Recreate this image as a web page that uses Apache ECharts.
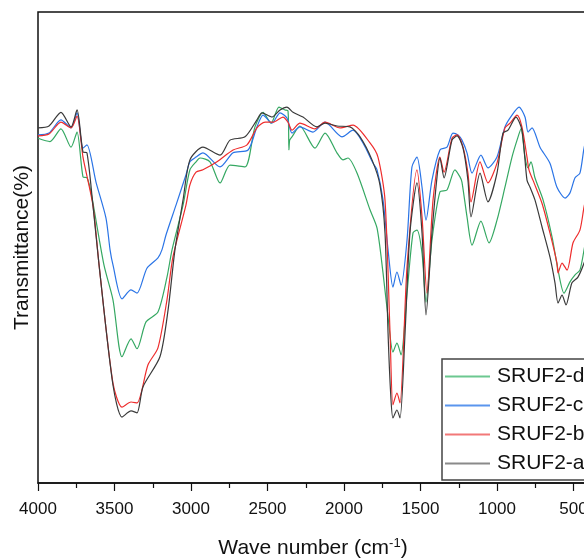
<!DOCTYPE html>
<html>
<head>
<meta charset="utf-8">
<script src="https://cdn.jsdelivr.net/npm/echarts@6/dist/echarts.min.js"></script>
<style>html,body{margin:0;padding:0;background:#fff;}#c{width:584px;height:559px;}</style>
</head>
<body>
<div id="c"></div>
<script>
// Wavenumbers (cm-1) and transmittance (arbitrary %)
const wnA = [4000,3928,3850,3784,3745,3706,3680,3641,3601,3510,3451,3392,3353,3314,3203,3150,3105,3052,3007,2922,2810,2745,2647,2569,2536,2471,2418,2373,2333,2268,2176,2124,2046,1961,1895,1817,1765,1732,1712,1695,1680,1654,1634,1601,1569,1523,1490,1464,1425,1392,1373,1346,1294,1261,1222,1190,1170,1111,1059,1000,961,928,876,837,804,784,752,706,654,621,601,575,549,510,471,431,400];
const tA  = [75.4,75.8,78.7,75.6,79.2,70.3,70.1,59.0,46.3,20.8,14.0,15.3,14.9,20.4,26.8,36.7,49.5,60.1,68.6,71.3,69.6,72.8,73.5,77.1,78.6,77.7,79.2,79.8,78.7,77.7,75.6,76.4,75.8,75.6,73.5,68.6,63.3,53.1,31.8,19.0,13.8,15.5,13.8,31.8,53.1,63.7,53.1,35.7,53.1,65.0,69.0,64.8,72.8,73.7,71.1,64.3,56.5,65.8,59.7,65.8,74.3,74.9,77.7,74.9,64.3,62.8,60.1,54.4,48.0,42.5,38.2,39.9,37.8,42.5,43.7,46.7,50.0];

const wnB = [4000,3928,3850,3784,3745,3706,3641,3601,3510,3451,3392,3353,3281,3216,3157,3118,3033,3007,2967,2922,2830,2725,2634,2569,2516,2464,2399,2366,2340,2288,2190,2124,2026,1941,1830,1778,1732,1699,1680,1654,1634,1588,1523,1490,1458,1418,1373,1346,1294,1261,1222,1190,1170,1111,1059,1000,948,915,869,837,804,791,765,706,654,608,601,575,542,503,458,431,400];
const tB  = [73.7,74.1,76.6,75.4,77.9,69.2,59.0,46.3,21.2,16.1,17.2,17.0,25.1,28.7,38.9,48.0,59.0,63.3,66.0,66.5,68.2,70.7,71.8,75.4,76.6,76.6,77.7,76.6,74.9,76.4,75.2,76.6,75.4,76.0,72.2,69.2,60.1,31.8,16.6,19.1,17.0,45.9,66.5,56.5,40.3,60.1,69.2,66.0,73.2,73.9,71.3,65.8,59.7,68.2,63.7,67.9,75.4,76.4,78.1,75.6,69.2,66.5,64.3,59.4,53.1,46.7,44.6,46.7,45.2,51.0,53.7,58.6,63.0];

const wnC = [4000,3928,3850,3784,3745,3706,3680,3621,3556,3529,3510,3451,3392,3353,3288,3216,3190,3163,3098,3033,3007,2967,2922,2810,2725,2627,2569,2529,2471,2418,2373,2340,2288,2203,2124,2013,1941,1876,1810,1784,1745,1712,1680,1654,1627,1588,1556,1523,1490,1464,1425,1373,1327,1288,1255,1229,1196,1163,1105,1059,1000,948,902,856,817,797,771,719,654,608,555,523,490,458,431,400];
const tC  = [73.9,74.3,77.1,75.4,78.6,71.1,71.8,63.9,56.3,49.5,46.3,39.1,41.0,40.3,45.6,47.8,49.5,52.7,59.0,65.4,68.2,69.2,70.1,67.1,70.1,70.7,75.6,78.1,76.4,78.6,77.5,74.3,75.6,74.5,76.6,73.5,74.9,72.2,67.9,66.5,60.1,49.5,41.6,44.8,42.0,51.6,67.1,69.2,62.8,55.8,64.3,70.7,71.3,74.3,73.9,72.8,70.1,65.8,69.6,66.9,69.2,75.6,78.1,79.8,77.7,74.5,75.4,71.3,67.9,62.8,60.5,61.6,64.8,65.8,71.1,75.0];

const wnD = [4000,3922,3850,3784,3745,3706,3680,3654,3569,3510,3451,3392,3353,3294,3216,3157,3124,3052,3007,2967,2941,2876,2810,2745,2647,2582,2529,2477,2425,2386,2366,2360,2355,2340,2288,2190,2124,2046,2007,1974,1915,1830,1784,1745,1712,1680,1654,1627,1588,1549,1523,1490,1464,1425,1373,1327,1275,1242,1229,1196,1163,1105,1052,1000,948,902,869,843,817,797,778,752,699,640,601,562,523,490,458,431,400];
const tD  = [73.2,72.5,75.2,71.3,74.5,65.0,64.8,61.8,46.3,38.9,26.8,30.6,28.5,34.2,36.3,43.7,49.5,59.0,66.5,68.2,69.0,68.2,63.7,67.5,67.1,75.6,78.7,76.4,79.8,79.2,79.0,70.7,72.8,73.5,75.8,71.1,74.3,70.1,68.6,69.0,65.8,58.0,54.1,44.6,35.2,27.8,29.7,27.2,40.3,53.1,53.7,48.8,38.4,51.6,61.8,62.2,66.5,65.0,63.9,56.5,50.5,55.6,51.0,55.8,62.8,69.2,72.8,75.2,69.2,66.9,68.2,64.8,60.1,52.2,45.2,40.3,42.7,44.2,45.2,49.5,55.0];

const seriesNames = ['SRUF2-d','SRUF2-c','SRUF2-b','SRUF2-a'];
const seriesColors = ['#35a862','#2a74e6','#ee2c2c','#3a3a3a'];
const legendColors = ['#6cc890','#5a95ee','#f27878','#8a8a8a'];
const xTicks = { min: 0, max: 4000, interval: 500 };

function zip(w, t){ return w.map((v,i)=>[v,t[i]]); }
const datasets = [zip(wnD,tD), zip(wnC,tC), zip(wnB,tB), zip(wnA,tA)];

const chart = echarts.init(document.getElementById('c'), null, {renderer:'canvas'});
const FONT = 'Liberation Sans, Arial, sans-serif';
chart.setOption({
  animation: false,
  backgroundColor: '#fff',
  grid: { left: 38, width: 612, top: 12, height: 471, containLabel: false, outerBoundsMode: 'none',
          show: true, borderColor: '#111', borderWidth: 1.5, backgroundColor: 'transparent' },
  legend: {
    orient: 'vertical', left: 442, top: 359,
    padding: [7, 30, 6, 3],
    itemGap: 8, itemWidth: 45, itemHeight: 2, icon: 'rect',
    borderColor: '#444', borderWidth: 1.5, backgroundColor: '#fff',
    textStyle: { fontFamily: FONT, fontSize: 21, color: '#111', padding: [0,0,0,2] },
    data: seriesNames.map((n,i)=>({ name: n, itemStyle: { color: legendColors[i] } }))
  },
  xAxis: {
    type: 'value', inverse: true, min: xTicks.min, max: xTicks.max, interval: xTicks.interval,
    name: 'Wave number (cm{sup|-1})', nameLocation: 'middle', nameGap: 54,
    nameTextStyle: { fontFamily: FONT, fontSize: 21, color: '#111', padding: [0, 62, 0, 0],
      rich: { sup: { fontFamily: FONT, fontSize: 13, color: '#111', verticalAlign: 'top', padding: [0,0,10,0] } } },
    axisLine: { show: true, lineStyle: { color: '#111', width: 1.5 } },
    axisTick: { show: true, inside: false, length: 8, lineStyle: { color: '#111', width: 1.2 } },
    minorTick: { show: true, splitNumber: 2, length: 5, lineStyle: { color: '#111', width: 1.2 } },
    axisLabel: { fontFamily: FONT, fontSize: 17, color: '#111', margin: 18, formatter: v => String(v) },
    splitLine: { show: false }, minorSplitLine: { show: false }
  },
  yAxis: {
    type: 'value', min: 0, max: 100,
    name: 'Transmittance(%)', nameLocation: 'middle', nameGap: 5,
    nameTextStyle: { fontFamily: FONT, fontSize: 21, color: '#111' },
    axisLine: { show: true, lineStyle: { color: '#111', width: 1.5 } },
    axisTick: { show: false }, axisLabel: { show: false }, splitLine: { show: false }
  },
  series: seriesNames.map((n,i)=>({
    name: n, type: 'line', data: datasets[i], symbol: 'none', smooth: 0.25,
    lineStyle: { width: 1.2, color: seriesColors[i] }, itemStyle: { color: seriesColors[i] },
    z: 2 + i
  }))
});
</script>
</body>
</html>
